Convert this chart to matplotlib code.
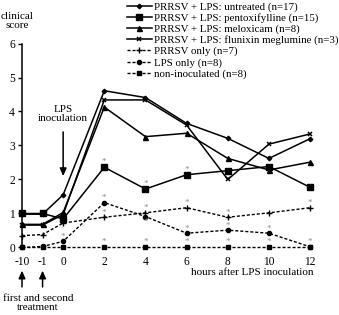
import matplotlib
matplotlib.use('Agg')
from matplotlib import pyplot as plt

plt.rcParams['font.family'] = ['Liberation Serif', 'DejaVu Serif']

# x positions: -10 h and -1 h are drawn one unit apart before 0
x_pos = [-2, -1, 0, 2, 4, 6, 8, 10, 12]
x_labels = ['-10', '-1', '0', '2', '4', '6', '8', '10', '12']

untreated = [0.98, 0.98, 1.55, 4.61, 4.41, 3.65, 3.21, 2.62, 3.20]
pentox = [1.00, 1.00, 0.84, 2.36, 1.72, 2.14, 2.26, 2.38, 1.77]
meloxicam = [0.68, 0.68, 1.03, 4.13, 3.26, 3.36, 2.62, 2.28, 2.51]
flunixin = [0.66, 0.66, 0.97, 4.34, 4.34, 3.60, 2.00, 3.04, 3.34]
prrsv_only = [0.35, 0.38, 0.72, 0.89, 1.02, 1.17, 0.89, 1.02, 1.17]
lps_only = [0.00, 0.03, 0.18, 1.32, 0.91, 0.42, 0.51, 0.42, 0.02]
non_inoc = [0, 0, 0, 0, 0, 0, 0, 0, 0]

labels = ['PRRSV + LPS: untreated (n=17)',
          'PRRSV + LPS: pentoxifylline (n=15)',
          'PRRSV + LPS: meloxicam (n=8)',
          'PRRSV + LPS: flunixin meglumine (n=3)',
          'PRRSV only (n=7)',
          'LPS only (n=8)',
          'non-inoculated (n=8)']

# significance stars: (x position, y position of star)
stars_x = [2, 4, 6,
           2, 4, 6, 8, 12,
           0, 2, 6, 8, 10,
           4,
           2, 4, 6, 8, 10, 12]
stars_y = [2.52, 1.88, 2.28,
           1.03, 1.17, 1.32, 1.02, 1.31,
           0.31, 1.45, 0.55, 0.64, 0.55,
           0.74,
           0.16, 0.16, 0.16, 0.16, 0.16, 0.16]

fig = plt.figure(figsize=(3.39, 3.15), dpi=100)
ax = fig.add_axes([0.0649, 0.2143, 0.868, 0.6476])

solid = dict(color='black', lw=1.1, clip_on=False)
dash = dict(color='black', lw=1.0, ls=(0, (2.2, 1.4)), clip_on=False)

h = []
h += ax.plot(x_pos, untreated, marker='D', ms=2.3, label=labels[0], **solid)
h += ax.plot(x_pos, pentox, marker='s', ms=3.7, label=labels[1], **solid)
h += ax.plot(x_pos, meloxicam, marker='^', ms=3.6, label=labels[2], **solid)
h += ax.plot(x_pos, flunixin, marker='x', ms=3.3, mew=1.1, label=labels[3], **solid)
h += ax.plot(x_pos, prrsv_only, marker='+', ms=3.8, mew=1.0, label=labels[4], **dash)
h += ax.plot(x_pos, lps_only, marker='o', ms=3.0, label=labels[5], **dash)
h += ax.plot(x_pos, non_inoc, marker='s', ms=2.6, label=labels[6], **dash)

for sx, sy in zip(stars_x, stars_y):
    ax.text(sx, sy, '*', color='#8a8a8a', fontsize=6.5, ha='center', va='center')

ax.set_xlim(-2, 12.3)
ax.set_ylim(0, 6)
ax.set_xticks(x_pos)
ax.set_xticklabels(x_labels)
ax.set_yticks(range(7))
ax.tick_params(axis='x', length=0, pad=6, labelsize=8.3)
ax.tick_params(axis='y', length=3, width=1, pad=2, labelsize=8.3)
for s in ['top', 'right', 'bottom']:
    ax.spines[s].set_visible(False)
ax.spines['left'].set_linewidth(1.1)

fig.text(17 / 339, 1 - 21 / 315, 'clinical\nscore', ha='center', va='center',
         fontsize=8, linespacing=1.0)
ax.text(12.15, -0.75, 'hours after LPS inoculation', ha='right', va='center',
        fontsize=8)

arrow = dict(arrowstyle='-|>,head_width=0.2,head_length=0.45',
             color='black', lw=1.1, shrinkA=0, shrinkB=0)

ax.text(0, 3.92, 'LPS\ninoculation', ha='center', va='center', fontsize=8,
        linespacing=1.0)
ax.annotate('', xy=(0, 2.1), xytext=(0, 3.4), arrowprops=arrow)

for xa in [-2, -1]:
    ax.annotate('', xy=(xa, -0.68), xytext=(xa, -1.16), annotation_clip=False,
                arrowprops=arrow)
fig.text(38 / 339, 1 - 303 / 315, 'first and second\ntreatment', ha='center',
         va='center', fontsize=8, linespacing=1.0)

fig.legend(handles=h, loc='upper left', bbox_to_anchor=(127 / 339, 0.994),
           frameon=False, fontsize=7.8, handlelength=2.3, handletextpad=0.15,
           labelspacing=0.12, borderpad=0, borderaxespad=0)

fig.savefig('out.png', dpi=100)
